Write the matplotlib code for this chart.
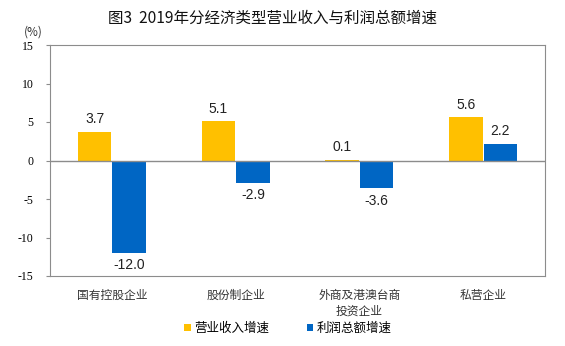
import matplotlib.pyplot as plt
import numpy as np

categories = ['国有控股企业', '股份制企业', '外商及港澳台商\n投资企业', '私营企业']
revenue_growth = [3.7, 5.1, 0.1, 5.6]
profit_growth = [-12.0, -2.9, -3.6, 2.2]
series_names = ['营业收入增速', '利润总额增速']
yticks = [-15, -10, -5, 0, 5, 10, 15]

cjk = ['Noto Sans CJK SC', 'DejaVu Sans']
plt.rcParams['font.family'] = cjk

fig = plt.figure(figsize=(5.65, 3.46), dpi=100)
ax = fig.add_axes([50 / 565, 1 - 276 / 346, 495 / 565, 231 / 346])

x = np.arange(len(categories))
w = 0.27
b1 = ax.bar(x - w / 2 - 0.004, revenue_growth, w, color='#FFC000', label=series_names[0])
b2 = ax.bar(x + w / 2 + 0.004, profit_growth, w, color='#0066C4', label=series_names[1])

for bars, vals in ((b1, revenue_growth), (b2, profit_growth)):
    for r, v in zip(bars, vals):
        off = 4 if v >= 0 else -4
        ax.annotate(f'{v:.1f}', (r.get_x() + r.get_width() / 2, v),
                    textcoords='offset points', xytext=(0, off),
                    ha='center', va='bottom' if v >= 0 else 'top',
                    fontsize=10, family='Liberation Sans', color='#222222')

ax.set_xlim(-0.5, 3.5)
ax.set_ylim(-15, 15)
ax.set_yticks(yticks)
ax.set_yticklabels([str(t) for t in yticks], family='Liberation Serif', fontsize=8.5)
ax.axhline(0, color='#8c8c8c', lw=1)
ax.set_xticks(x)
ax.set_xticklabels(categories, fontsize=8.5, color='#333333', linespacing=1.35)
ax.tick_params(axis='x', length=0, pad=9)
ax.tick_params(axis='y', length=3, color='#8c8c8c', pad=9)
for s in ax.spines.values():
    s.set_color('#8c8c8c')

fig.text(272 / 565, 1 - 18 / 346, '图3  2019年分经济类型营业收入与利润总额增速',
         ha='center', va='center', fontsize=11.2, color='#111111')
fig.text(33 / 565, 1 - 32 / 346, '(%)', ha='center', va='center',
         fontsize=8.5, color='#333333')

fig.legend(loc='center', bbox_to_anchor=(288 / 565, 1 - 328 / 346), ncol=2,
           frameon=False, fontsize=9, handlelength=0.5, handleheight=0.5,
           handletextpad=0.3, columnspacing=3)

fig.savefig('out.png', dpi=100)
